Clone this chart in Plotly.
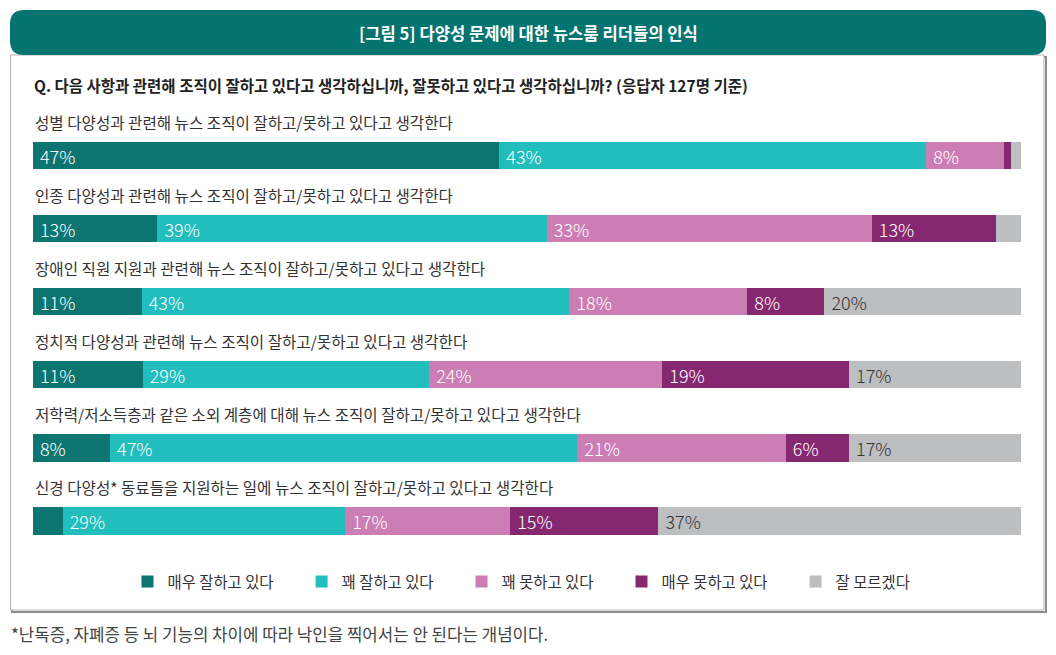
import plotly.graph_objects as go

# the page body adds an 8px margin, so the figure is drawn 16px smaller
OFF = 8
W, H = 1056 - 2 * OFF, 655 - 2 * OFF
FONT = "Noto Sans CJK KR"

title = "[그림 5] 다양성 문제에 대한 뉴스룸 리더들의 인식"
question = "Q. 다음 사항과 관련해 조직이 잘하고 있다고 생각하십니까, 잘못하고 있다고 생각하십니까? (응답자 127명 기준)"
footnote = "*난독증, 자폐증 등 뇌 기능의 차이에 따라 낙인을 찍어서는 안 된다는 개념이다."

items = [
    "성별 다양성과 관련해 뉴스 조직이 잘하고/못하고 있다고 생각한다",
    "인종 다양성과 관련해 뉴스 조직이 잘하고/못하고 있다고 생각한다",
    "장애인 직원 지원과 관련해 뉴스 조직이 잘하고/못하고 있다고 생각한다",
    "정치적 다양성과 관련해 뉴스 조직이 잘하고/못하고 있다고 생각한다",
    "저학력/저소득층과 같은 소외 계층에 대해 뉴스 조직이 잘하고/못하고 있다고 생각한다",
    "신경 다양성* 동료들을 지원하는 일에 뉴스 조직이 잘하고/못하고 있다고 생각한다",
]

series = ["매우 잘하고 있다", "꽤 잘하고 있다", "꽤 못하고 있다", "매우 못하고 있다", "잘 모르겠다"]

very_good = [47.2, 12.6, 11.0, 11.1, 7.8, 3.0]
fairly_good = [43.2, 39.4, 43.3, 29.0, 47.3, 28.6]
fairly_bad = [7.9, 32.9, 18.0, 23.6, 21.1, 16.7]
very_bad = [0.7, 12.6, 7.8, 18.9, 6.4, 15.0]
dont_know = [1.0, 2.5, 19.9, 17.4, 17.4, 36.7]

colors = ["#0c7572", "#22bdbd", "#cb7db4", "#862870", "#bdbec0"]
text_colors = ["white", "white", "white", "white", "#333333"]

# plot area in page pixels
L, R, T, B = 33, 1021, 119, 568


def px(x):
    return (x - L) / (R - L)


def py(y):
    return (B - y) / (B - T)


fig = go.Figure()
for name, vals, c, tc in zip(series, [very_good, fairly_good, fairly_bad, very_bad, dont_know],
                             colors, text_colors):
    fig.add_trace(go.Bar(
        y=items, x=vals, name=name + "\u2002" * 3, orientation="h",
        marker=dict(color=c, line=dict(width=0)),
        text=["\u00a0" + f"{v:.0f}%" if v >= 5 else "" for v in vals],
        textposition="inside", insidetextanchor="start", constraintext="none",
        textfont=dict(color=tc, size=18, family=FONT, weight=300),
        hoverinfo="x+name",
    ))

# row labels above the bars
for it in items:
    fig.add_annotation(x=0, xref="paper", y=it, yref="y", yshift=34,
                       text=it, showarrow=False, xanchor="left", yanchor="middle",
                       font=dict(size=15.6, color="#333333", family=FONT))

shapes = []
# outer box with shadow
shapes.append(dict(type="rect", xref="paper", yref="paper",
                   x0=px(12), x1=px(1046), y0=py(57), y1=py(612),
                   line=dict(color="#8c8c8c", width=2), fillcolor="rgba(0,0,0,0)", layer="below"))
shapes.append(dict(type="rect", xref="paper", yref="paper",
                   x0=px(10.5), x1=px(1044), y0=py(55), y1=py(610),
                   line=dict(color="#b4b4b4", width=1), fillcolor="white", layer="below"))
# title banner with rounded corners
r = 14
x0, x1, y0, y1 = 10, 1046, 10, 55
path = (f"M {px(x0 + r)},{py(y0)} L {px(x1 - r)},{py(y0)} "
        f"Q {px(x1)},{py(y0)} {px(x1)},{py(y0 + r)} L {px(x1)},{py(y1 - r)} "
        f"Q {px(x1)},{py(y1)} {px(x1 - r)},{py(y1)} L {px(x0 + r)},{py(y1)} "
        f"Q {px(x0)},{py(y1)} {px(x0)},{py(y1 - r)} L {px(x0)},{py(y0 + r)} "
        f"Q {px(x0)},{py(y0)} {px(x0 + r)},{py(y0)} Z")
shapes.append(dict(type="path", xref="paper", yref="paper", path=path,
                   fillcolor="#037470", line=dict(width=0), layer="below"))

fig.add_annotation(x=px(528), y=py(33), xref="paper", yref="paper", text="<b>" + title + "</b>",
                   showarrow=False, xanchor="center", yanchor="middle",
                   font=dict(size=16.6, color="white", family=FONT))
fig.add_annotation(x=px(32), y=py(85), xref="paper", yref="paper", text="<b>" + question + "</b>",
                   showarrow=False, xanchor="left", yanchor="middle",
                   font=dict(size=15.5, color="#222222", family=FONT))
fig.add_annotation(x=px(9), y=py(634), xref="paper", yref="paper", text=footnote,
                   showarrow=False, xanchor="left", yanchor="middle",
                   font=dict(size=16.8, color="#444444", family=FONT))

fig.update_layout(
    width=W, height=H,
    barmode="stack", bargap=0.626,
    margin=dict(l=L - OFF, r=W + OFF - R, t=T - OFF, b=H + OFF - B),
    paper_bgcolor="white", plot_bgcolor="rgba(0,0,0,0)",
    font=dict(family=FONT, size=15, color="#333333"),
    xaxis=dict(range=[0, 100], visible=False, fixedrange=True),
    yaxis=dict(autorange="reversed", showticklabels=False, showgrid=False, zeroline=False,
               fixedrange=True, categoryorder="array", categoryarray=items),
    legend=dict(orientation="h", x=px(533), xanchor="center", y=py(582), yanchor="middle",
                traceorder="normal", font=dict(size=15.4, color="#333333", family=FONT),
                itemwidth=30, bgcolor="rgba(0,0,0,0)"),
    shapes=shapes,
    showlegend=True,
)

fig.write_html("out.html")
